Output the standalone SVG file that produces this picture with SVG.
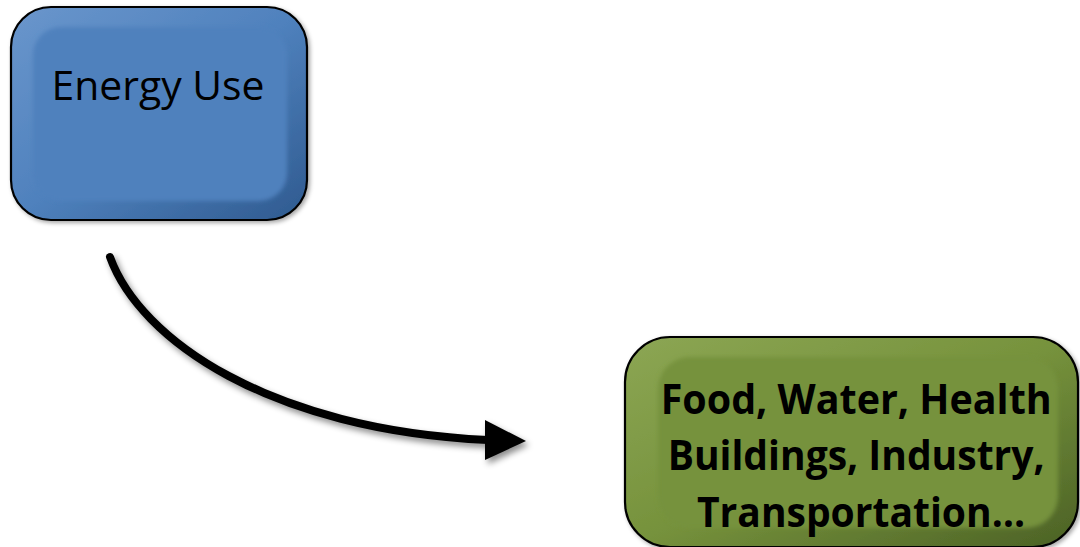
<svg xmlns="http://www.w3.org/2000/svg" width="1080" height="547" viewBox="0 0 1080 547">
  <style>
    .outer { stroke: #000; stroke-width: 2.2; }
    .lbl { font-family: "Open Sans", "Liberation Sans", sans-serif; fill: #000; text-anchor: middle; }
    .conn { fill: none; stroke: #000; stroke-width: 8; stroke-linecap: round; }
  </style>
  <defs>
    <linearGradient id="blueBevel" x1="0" y1="0" x2="1" y2="1">
      <stop offset="0" stop-color="#6a96cc"/>
      <stop offset="0.5" stop-color="#4f81bd"/>
      <stop offset="1" stop-color="#2f5a8f"/>
    </linearGradient>
    <linearGradient id="greenBevel" x1="0" y1="0" x2="1" y2="1">
      <stop offset="0" stop-color="#8ca654"/>
      <stop offset="0.5" stop-color="#76923c"/>
      <stop offset="1" stop-color="#4b6125"/>
    </linearGradient>
    <filter id="shadow" x="-10%" y="-10%" width="130%" height="140%">
      <feDropShadow dx="3" dy="4" stdDeviation="3" flood-color="#000" flood-opacity="0.45"/>
    </filter>
    <filter id="boxShadow" x="-10%" y="-10%" width="130%" height="130%">
      <feDropShadow dx="2" dy="2" stdDeviation="2" flood-color="#000" flood-opacity="0.35"/>
    </filter>
    <filter id="soft" x="-5%" y="-5%" width="110%" height="110%">
      <feGaussianBlur stdDeviation="2"/>
    </filter>
  </defs>

  <g id="connectors" filter="url(#shadow)">
    <path class="conn" d="M110,257 C140,340 270,430 488,440"/>
    <polygon points="485,420 526,441 485,460" fill="#000"/>
  </g>

  <g id="energy-use">
    <rect class="outer" x="11" y="7" width="296" height="213" rx="40" fill="url(#blueBevel)" filter="url(#boxShadow)"/>
    <rect x="33" y="27" width="254" height="174" rx="28" fill="#4f81bd" filter="url(#soft)"/>
    <text class="lbl" x="158" y="100" font-size="41" textLength="213" lengthAdjust="spacingAndGlyphs">Energy Use</text>
  </g>

  <g id="sectors">
    <rect class="outer" x="625" y="337" width="453" height="210" rx="45" fill="url(#greenBevel)" filter="url(#boxShadow)"/>
    <rect x="658" y="357" width="400" height="171" rx="32" fill="#76923c" filter="url(#soft)"/>
    <text class="lbl" font-weight="bold" font-size="41">
      <tspan x="861.5" y="414" textLength="391" lengthAdjust="spacingAndGlyphs">Food, Water, Health</tspan>
      <tspan x="861.5" y="470" textLength="377" lengthAdjust="spacingAndGlyphs">Buildings, Industry,</tspan>
      <tspan x="861" y="527" textLength="328" lengthAdjust="spacingAndGlyphs">Transportation…</tspan>
    </text>
  </g>
</svg>
